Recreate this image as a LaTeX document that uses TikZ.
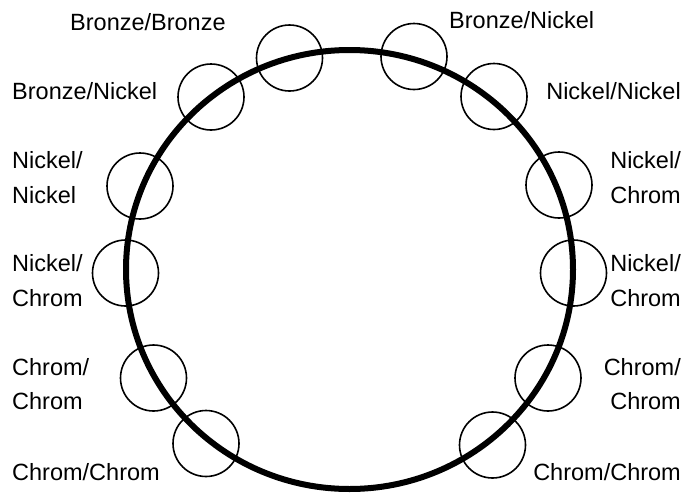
\documentclass[tikz,border=0pt]{standalone}
\usepackage{fontspec}
\setmainfont{Liberation Sans}
\begin{document}
\begin{tikzpicture}[x=1pt,y=-1pt,
  ring/.style={circle,draw,line width=1.6pt,minimum size=66pt,inner sep=0pt},
  lab/.style={inner sep=0pt,font=\fontsize{23.5}{28}\selectfont},
  labl/.style={lab,anchor=base west},
  labr/.style={lab,anchor=base east}]
\useasboundingbox (0,0) rectangle (696,493);
% small rings
\node[ring] (r1) at (289.5,58) {};
\node[ring] (r2) at (211,97) {};
\node[ring] (r3) at (140,186) {};
\node[ring] (r4) at (125.5,273) {};
\node[ring] (r5) at (153.5,378) {};
\node[ring] (r6) at (206,443.5) {};
\node[ring] (r7) at (414,56.5) {};
\node[ring] (r8) at (494,96.5) {};
\node[ring] (r9) at (559,185) {};
\node[ring] (r10) at (573.5,273) {};
\node[ring] (r11) at (548,378) {};
\node[ring] (r12) at (492.5,445) {};
% big ring
\coordinate (c) at (349.5,269.5);
\draw[line width=6pt] (c) ellipse [x radius=223.5pt, y radius=219.5pt];
% left labels
\node[labl] (t1) at (70,30) {Bronze/Bronze};
\node[labl] (t2) at (12,99) {Bronze/Nickel};
\node[labl] (t3a) at (12,168) {Nickel/};
\node[labl] (t3b) at (12,203) {Nickel};
\node[labl] (t4a) at (12,271) {Nickel/};
\node[labl] (t4b) at (12,306) {Chrom};
\node[labl] (t5a) at (12,375) {Chrom/};
\node[labl] (t5b) at (12,409) {Chrom};
\node[labl] (t6) at (12,480) {Chrom/Chrom};
% right labels
\node[labl] (t7) at (449,28) {Bronze/Nickel};
\node[labr] (t8) at (681,99) {Nickel/Nickel};
\node[labr] (t9a) at (681,168) {Nickel/};
\node[labr] (t9b) at (681,203) {Chrom};
\node[labr] (t10a) at (681,271) {Nickel/};
\node[labr] (t10b) at (681,306) {Chrom};
\node[labr] (t11a) at (681,375) {Chrom/};
\node[labr] (t11b) at (681,409) {Chrom};
\node[labr] (t12) at (681,480) {Chrom/Chrom};
\end{tikzpicture}
\end{document}
